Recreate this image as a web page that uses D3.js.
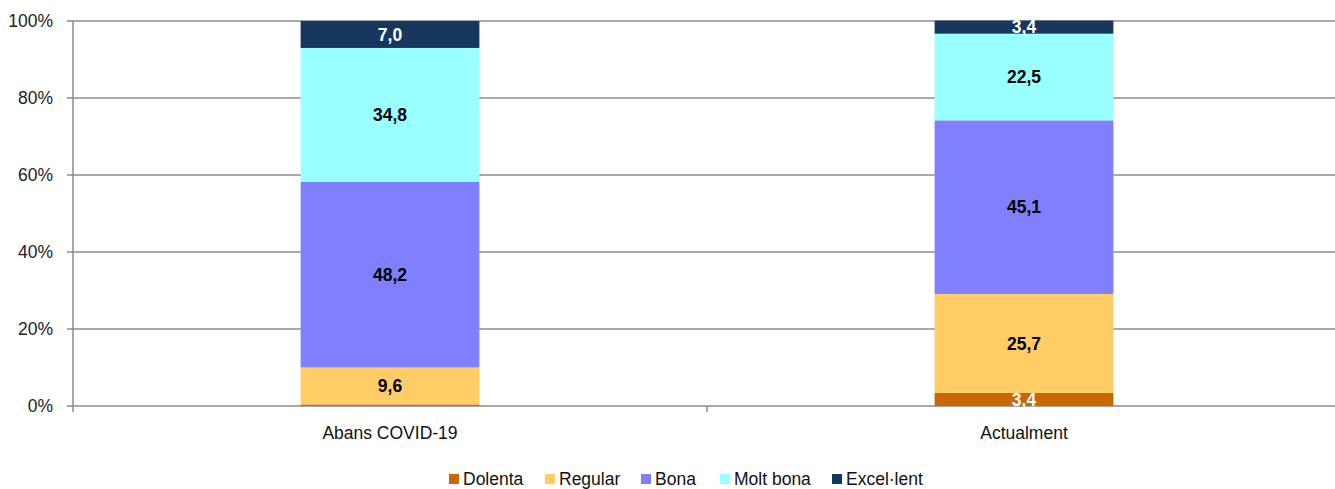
<!DOCTYPE html>
<html>
<head>
<meta charset="utf-8">
<script src="https://cdn.jsdelivr.net/npm/d3@7"></script>
<style>
  body { margin: 0; background: #fff; overflow: hidden; }
  text { font-family: "Liberation Sans", Arial, sans-serif; }
</style>
</head>
<body>
<svg id="chart"></svg>
<script>
// data
var categories = ['Abans COVID-19', 'Actualment'];
var seriesNames = ['Dolenta', 'Regular', 'Bona', 'Molt bona', 'Excel\u00b7lent'];
var dolenta = [0.4, 3.4];
var regular = [9.6, 25.7];
var bona = [48.2, 45.1];
var moltBona = [34.8, 22.5];
var excellent = [7.0, 3.4];
var yTicks = [0, 20, 40, 60, 80, 100];

(function () {
    var width = 1335, height = 489;
    var margin = { left: 73, right: -6, top: 21, bottom: 83 };
    var colors = ['#CC6600', '#FFCC66', '#8080FF', '#99FFFF', '#17375E'];
    var labelColors = ['#fff', '#000', '#000', '#000', '#fff'];
    var allSeries = [dolenta, regular, bona, moltBona, excellent];

    var rows = categories.map(function (c, i) {
        var r = { cat: c };
        seriesNames.forEach(function (s, j) { r[s] = allSeries[j][i]; });
        return r;
    });

    var svg = d3.select('#chart').attr('width', width).attr('height', height);
    var x = d3.scaleBand().domain(categories)
        .range([margin.left, width - margin.right]).paddingInner(0.718).paddingOuter(0.359);
    var y = d3.scaleLinear().domain([0, 100]).range([height - margin.bottom, margin.top]);

    // gridlines
    svg.append('g').selectAll('line').data(yTicks).enter().append('line')
        .attr('x1', margin.left - 6).attr('x2', width)
        .attr('y1', function (d) { return y(d); }).attr('y2', function (d) { return y(d); })
        .attr('stroke', '#8c8c8c').attr('stroke-width', 1.5);

    // y axis line
    svg.append('line').attr('x1', margin.left).attr('x2', margin.left)
        .attr('y1', y(100)).attr('y2', y(0)).attr('stroke', '#8c8c8c').attr('stroke-width', 1.5);

    svg.append('g').selectAll('text').data(yTicks).enter().append('text')
        .attr('x', 53).attr('y', function (d) { return y(d); }).attr('dy', '0.35em')
        .attr('text-anchor', 'end').attr('font-size', 17.5).attr('fill', '#222')
        .text(function (d) { return d + '%'; });

    // category ticks
    var mid = (x(categories[0]) + x.bandwidth() / 2 + x(categories[1]) + x.bandwidth() / 2) / 2;
    svg.append('line').attr('x1', mid).attr('x2', mid)
        .attr('y1', y(0)).attr('y2', y(0) + 6).attr('stroke', '#8c8c8c').attr('stroke-width', 1.5);
    svg.append('line').attr('x1', margin.left).attr('x2', margin.left)
        .attr('y1', y(0)).attr('y2', y(0) + 6).attr('stroke', '#8c8c8c').attr('stroke-width', 1.5);

    svg.append('g').selectAll('text').data(categories).enter().append('text')
        .attr('x', function (d) { return x(d) + x.bandwidth() / 2; })
        .attr('y', 439).attr('text-anchor', 'middle').attr('font-size', 17.5).attr('fill', '#111')
        .text(function (d) { return d; });

    var stack = d3.stack().keys(seriesNames)(rows);

    var layer = svg.append('g').selectAll('g').data(stack).enter().append('g')
        .attr('fill', function (d, i) { return colors[i]; });

    layer.selectAll('rect').data(function (d) { return d; }).enter().append('rect')
        .attr('x', function (d) { return x(d.data.cat); })
        .attr('width', x.bandwidth())
        .attr('y', function (d) { return y(d[1]); })
        .attr('height', function (d) { return y(d[0]) - y(d[1]); });

    layer.each(function (s, i) {
        d3.select(this).selectAll('text').data(s.filter(function (d) { return d[1] - d[0] >= 1; }))
            .enter().append('text')
            .attr('x', function (d) { return x(d.data.cat) + x.bandwidth() / 2; })
            .attr('y', function (d) { return y((d[0] + d[1]) / 2); })
            .attr('dy', '0.36em').attr('text-anchor', 'middle')
            .attr('font-size', 17.5).attr('font-weight', 'bold')
            .attr('fill', labelColors[i])
            .text(function (d) { return (d[1] - d[0]).toFixed(1).replace('.', ','); });
    });

    // legend
    var legendX = [449, 545, 641, 720, 832];
    var legend = svg.append('g').selectAll('g').data(seriesNames).enter().append('g')
        .attr('transform', function (d, i) { return 'translate(' + legendX[i] + ',474)'; });
    legend.append('rect').attr('width', 10).attr('height', 10)
        .attr('fill', function (d, i) { return colors[i]; });
    legend.append('text').attr('x', 14).attr('y', 5).attr('dy', '0.36em')
        .attr('font-size', 17.5).attr('fill', '#111').text(function (d) { return d; });
}());
</script>
</body>
</html>
